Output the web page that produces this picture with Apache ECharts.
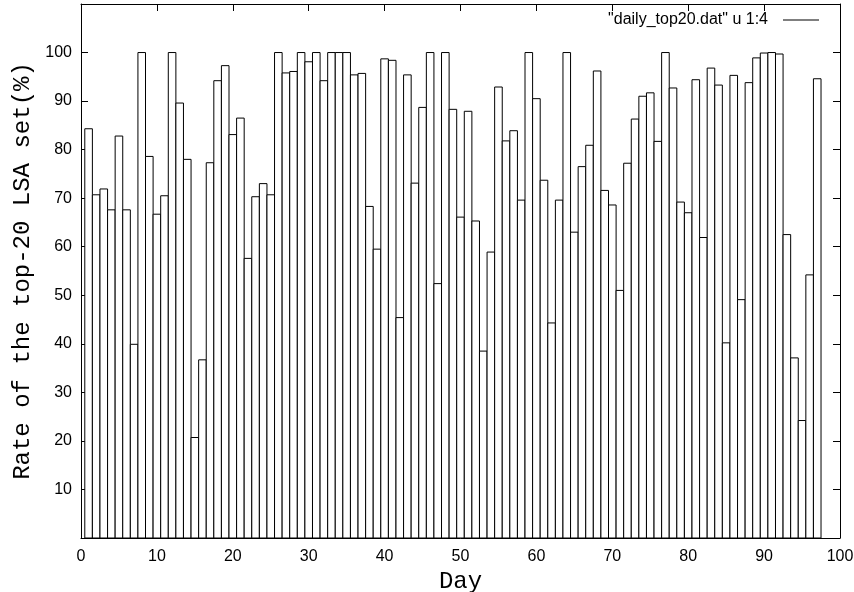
<!DOCTYPE html>
<html>
<head>
<meta charset="utf-8">
<script src="https://cdn.jsdelivr.net/npm/echarts@6/dist/echarts.min.js"></script>
<style>
  html, body { margin: 0; padding: 0; background: #fff; }
  #chart { width: 854px; height: 592px; }
</style>
</head>
<body>
<div id="chart"></div>
<script>
// Daily rate (%) of the top-20 LSA set, one box per day
const seriesName = '"daily_top20.dat" u 1:4';
const days = [
   1,  2,  3,  4,  5,  6,  7,  8,  9, 10, 11, 12, 13, 14, 15, 16, 17, 18, 19, 20,
  21, 22, 23, 24, 25, 26, 27, 28, 29, 30, 31, 32, 33, 34, 35, 36, 37, 38, 39, 40,
  41, 42, 43, 44, 45, 46, 47, 48, 49, 50, 51, 52, 53, 54, 55, 56, 57, 58, 59, 60,
  61, 62, 63, 64, 65, 66, 67, 68, 69, 70, 71, 72, 73, 74, 75, 76, 77, 78, 79, 80,
  81, 82, 83, 84, 85, 86, 87, 88, 89, 90, 91, 92, 93, 94, 95, 96, 97
];
const rates = [
  84.3, 70.7, 71.9, 67.6, 82.8, 67.6, 39.9, 100, 78.6, 66.7,
  70.5, 100, 89.6, 78.0, 20.7, 36.7, 77.3, 94.2, 97.3, 83.1,
  86.5, 57.6, 70.3, 73.0, 70.7, 100, 95.8, 96.1, 100, 98.1,
  100, 94.2, 100, 100, 100, 95.4, 95.7, 68.3, 59.5, 98.7,
  98.4, 45.4, 95.4, 73.1, 88.7, 100, 52.4, 100, 88.3, 66.1,
  87.9, 65.3, 38.5, 58.9, 92.9, 81.8, 83.9, 69.6, 100, 90.5,
  73.7, 44.3, 69.6, 100, 63.0, 76.5, 80.9, 96.2, 71.6, 68.6,
  51.0, 77.2, 86.3, 91.0, 91.7, 81.7, 100, 92.7, 69.2, 67.0,
  94.4, 61.9, 96.8, 93.3, 40.2, 95.3, 49.1, 93.8, 98.9, 99.9,
  100, 99.7, 62.5, 37.1, 24.2, 54.2, 94.6
];
const xTickLabels = [0, 10, 20, 30, 40, 50, 60, 70, 80, 90, 100];
const yTickLabels = [10, 20, 30, 40, 50, 60, 70, 80, 90, 100];
const xTitle = 'Day';
const yTitle = 'Rate of the top-20 LSA set(%)';

const boxWidth = 1; // in days

const labelFont = { color: '#000', fontFamily: 'Liberation Sans', fontSize: 16 };
const titleFont = { color: '#000', fontFamily: 'Liberation Mono', fontSize: 24 };
const frameLine = { show: true, onZero: false, lineStyle: { color: '#000', width: 1 } };
const innerTick = { show: true, inside: true, length: 7, lineStyle: { color: '#000', width: 1 } };

const chart = echarts.init(document.getElementById('chart'), null, { renderer: 'canvas' });

chart.setOption({
  animation: false,
  backgroundColor: '#fff',
  grid: { left: 81, right: 14, top: 4, bottom: 54, containLabel: false, outerBoundsMode: 'none' },
  legend: {
    right: 35,
    top: 12,
    padding: 0,
    align: 'right',
    itemWidth: 36,
    itemHeight: 1,
    textStyle: Object.assign({ padding: [0, 10, 0, 0] }, labelFont),
    data: [{ name: seriesName, icon: 'rect', itemStyle: { color: '#000', borderWidth: 0 } }]
  },
  xAxis: [
    {
      type: 'value', position: 'bottom', min: 0, max: 100, interval: 10,
      axisLine: frameLine, axisTick: innerTick, splitLine: { show: false },
      axisLabel: Object.assign({ margin: 11,
        formatter: v => xTickLabels.includes(v) ? String(v) : '' }, labelFont),
      name: xTitle, nameLocation: 'middle', nameGap: 30, nameTextStyle: titleFont
    },
    {
      type: 'value', position: 'top', min: 0, max: 100, interval: 10,
      axisLine: frameLine, axisTick: innerTick, splitLine: { show: false },
      axisLabel: { show: false }
    }
  ],
  yAxis: [
    {
      type: 'value', position: 'left', min: 0, max: 110, interval: 10,
      axisLine: frameLine, axisTick: innerTick, splitLine: { show: false },
      axisLabel: Object.assign({ margin: 9,
        formatter: v => yTickLabels.includes(v) ? String(v) : '' }, labelFont),
      name: yTitle, nameLocation: 'middle', nameRotate: 90, nameGap: 46, nameTextStyle: titleFont
    },
    {
      type: 'value', position: 'right', min: 0, max: 110, interval: 10,
      axisLine: frameLine, axisTick: innerTick, splitLine: { show: false },
      axisLabel: { show: false }
    }
  ],
  series: [{
    name: seriesName,
    type: 'custom',
    xAxisIndex: 0,
    yAxisIndex: 0,
    itemStyle: { color: '#000' },
    data: days.map((d, i) => [d, rates[i]]),
    renderItem: function (params, api) {
      const day = api.value(0);
      const val = api.value(1);
      const topLeft = api.coord([day - boxWidth / 2, val]);
      const bottomRight = api.coord([day + boxWidth / 2, 0]);
      return {
        type: 'rect',
        shape: {
          x: topLeft[0],
          y: topLeft[1],
          width: bottomRight[0] - topLeft[0],
          height: bottomRight[1] - topLeft[1]
        },
        style: { fill: '#fff', stroke: '#000', lineWidth: 1 }
      };
    }
  }]
});
</script>
</body>
</html>
